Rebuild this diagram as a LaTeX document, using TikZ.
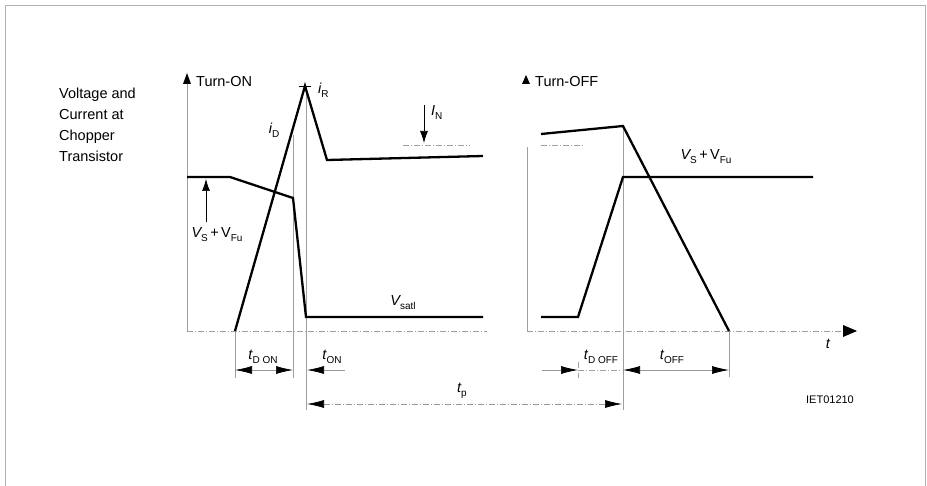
\documentclass[tikz,border=0pt]{standalone}
\usepackage{fontspec}
\setmainfont{Liberation Sans}
\usetikzlibrary{arrows.meta}
\newcommand\lsub[1]{\raisebox{-4pt}{\fontsize{10}{12}\selectfont #1}}
\tikzset{
  wave/.style={line width=2.3pt, line join=miter, line cap=butt},
  guide/.style={gray!75, line width=0.6pt, dash pattern=on 6pt off 2pt on 1pt off 2pt},
  vline/.style={gray!75, line width=0.7pt},
  frame/.style={gray!60, line width=0.8pt},
  bigtip/.tip={Latex[length=17pt,width=8pt,black]},
  dimarr/.style={line width=0.7pt, gray!80, bigtip-bigtip},
  onearr/.style={line width=0.7pt, gray!80, -bigtip},
  smallarr/.style={line width=0.7pt, black, -{Latex[length=12pt,width=8pt]}},
  lbl/.style={font=\fontsize{14.5}{17}\selectfont, inner sep=0pt},
  var/.style={font=\fontsize{14.5}{17}\selectfont\itshape, inner sep=0pt},
}
\begin{document}
\begin{tikzpicture}[x=1pt,y=-1pt]
\useasboundingbox (0,0) rectangle (927,486);
% frame
\draw[frame] (5,486) -- (5,5) -- (925,5) -- (925,486);

% ---------- text block ----------
\node[lbl, anchor=north west, align=left, font=\fontsize{14.5}{21}\selectfont] (title) at (59,88)
  {Voltage and\\Current at\\Chopper\\Transistor};

% ---------- Turn-ON ----------
\coordinate (axtop) at (187,84);
\coordinate (axbot) at (187,331);
\draw[vline] (axbot) -- (axtop);
\fill (183,84) -- (187,73) -- (191,84) -- cycle;
\node[lbl, anchor=west] (ton) at (196,82) {Turn-ON};

% guides
\coordinate (gA) at (235,331);
\coordinate (gAb) at (235,378);
\coordinate (gB) at (293,135);
\coordinate (gBb) at (293,378);
\coordinate (gC) at (306,86);
\coordinate (gCb) at (306,410);
\draw[vline] (gA) -- (gAb);
\draw[vline] (gB) -- (gBb);
\draw[vline] (gC) -- (gCb);
\draw[guide] (axbot) -- (487,331);

% voltage
\coordinate (v0) at (187,177);
\coordinate (v1) at (230,177);
\coordinate (v2) at (293,198);
\coordinate (v3) at (306,317);
\coordinate (v4) at (483,317);
\draw[wave] (v0) -- (v1) -- (v2) -- (v3) -- (v4);

% current
\coordinate (i0) at (235,331);
\coordinate (ipk) at (305,86);
\coordinate (i2) at (327,160);
\coordinate (i3) at (483,156);
\draw[wave] (i0) -- (ipk) -- (i2) -- (i3);
\draw[line width=0.6pt] (299,86) -- (311,86);

\node[var, anchor=west] (iR) at (318,90) {i\lsub{\upshape R}};
\node[var] (iD) at (274,130) {i\lsub{\upshape D}};

% I_N
\coordinate (inT) at (424,105);
\coordinate (inB) at (424,143);
\draw[smallarr] (inT) -- (inB);
\draw[guide] (403,145) -- (470,145);
\node[var, anchor=west] (IN) at (431,113) {I\lsub{\upshape N}};

% Vs+VFu arrow
\coordinate (vsB) at (206,222);
\coordinate (vsT) at (206,179);
\draw[smallarr] (vsB) -- (vsT);
\node[var] (vs1) at (217,235) {V\lsub{\upshape S}\,\upshape +\,V\lsub{\upshape Fu}};

\node[var] (vsat) at (403,303) {V\lsub{\upshape satl}};

% dimension arrows
\draw[dimarr] (gA |- 0,370) -- (gB |- 0,370);
\node[var] (tdon) at (263,357) {t\lsub{\upshape D ON}};
\coordinate (tonE) at (345,370);
\draw[onearr] (tonE) -- (307,370);
\node[var] (tonl) at (332,357) {t\lsub{\upshape ON}};

\draw[dimarr, dash pattern=on 6pt off 2pt on 1pt off 2pt] (307,404) -- (622,404);
\node[var] (tp) at (462,391) {t\lsub{\upshape p}};

% ---------- Turn-OFF ----------
\fill (522,84) -- (526,75) -- (530,84) -- cycle;
\node[lbl, anchor=west] (toff) at (535,82) {Turn-OFF};

\coordinate (rL) at (527,147);
\coordinate (rLb) at (527,331);
\draw[vline] (rL) -- (rLb);
\draw[guide] (541,145) -- (583,145);
\coordinate (gD) at (623,126);
\coordinate (gDb) at (623,410);
\draw[vline] (gD) -- (gDb);
\coordinate (gE) at (729,331);
\coordinate (gEb) at (729,377);
\draw[vline] (gE) -- (gEb);
\draw[guide] (578,362) -- (578,378);
\coordinate (tax) at (857,331);
\draw[guide] (rLb) -- (845,331);
\fill (843,325) -- (857,331) -- (843,337) -- cycle;
\node[var] (tlab) at (828,344) {t};

% current
\coordinate (c0) at (541,134);
\coordinate (c1) at (623,126);
\coordinate (c2) at (729,331);
\draw[wave] (c0) -- (c1) -- (c2);

% voltage
\coordinate (w0) at (541,317);
\coordinate (w1) at (578,317);
\coordinate (w2) at (623,177);
\coordinate (w3) at (813,177);
\draw[wave] (w0) -- (w1) -- (w2) -- (w3);
\node[var] (vs2) at (706,157) {V\lsub{\upshape S}\,\upshape +\,V\lsub{\upshape Fu}};

% dims
\coordinate (tdoffS) at (542,370);
\draw[onearr] (tdoffS) -- (578,370);
\draw[guide] (578,370) -- (622,370);
\node[var] (tdoff) at (601,357) {t\lsub{\upshape D OFF}};
\draw[dimarr] (gD |- 0,370) -- (gE |- 0,370);
\node[var] (toffl) at (672,357) {t\lsub{\upshape OFF}};

\node[inner sep=0pt, font=\fontsize{11}{13}\selectfont] (iet) at (830,400) {IET01210};
\end{tikzpicture}
\end{document}
